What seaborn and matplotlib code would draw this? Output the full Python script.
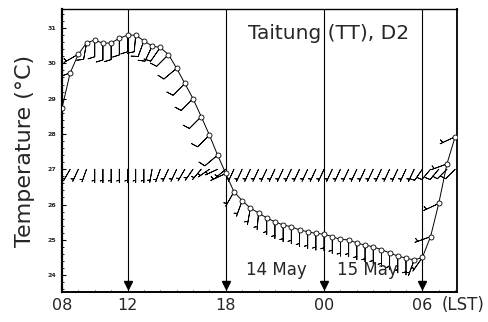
import numpy as np
import matplotlib
matplotlib.use("Agg")
import matplotlib.pyplot as plt
import seaborn as sns

# half-hourly samples, hours since 00 LST on 14 May
hours = [8.0, 8.5, 9.0, 9.5, 10.0, 10.5, 11.0, 11.5, 12.0, 12.5,
         13.0, 13.5, 14.0, 14.5, 15.0, 15.5, 16.0, 16.5, 17.0, 17.5,
         18.0, 18.5, 19.0, 19.5, 20.0, 20.5, 21.0, 21.5, 22.0, 22.5,
         23.0, 23.5, 24.0, 24.5, 25.0, 25.5, 26.0, 26.5, 27.0, 27.5,
         28.0, 28.5, 29.0, 29.5, 30.0, 30.5, 31.0, 31.5, 32.0]
temp = [28.73, 29.73, 30.26, 30.58, 30.66, 30.57, 30.58, 30.71, 30.80, 30.80,
        30.64, 30.49, 30.45, 30.25, 29.86, 29.43, 29.00, 28.49, 27.97, 27.40,
        26.88, 26.36, 26.11, 25.90, 25.76, 25.62, 25.51, 25.42, 25.37, 25.28,
        25.23, 25.18, 25.16, 25.09, 25.01, 25.00, 24.91, 24.85, 24.80, 24.72,
        24.63, 24.54, 24.48, 24.43, 24.50, 25.09, 26.03, 27.15, 27.92]

# wind barbs drawn on the temperature curve (direction wind comes from, deg)
curve_dir = [250, 250, 240, 190, 180, 180, 180, 180, 180, 185,
             200, 205, 215, 225, 230, 225, 225, 225, 225, 230,
             245, 210, 200, 190, 185, 180, 180, 180, 180, 180,
             180, 180, 180, 180, 180, 180, 180, 180, 180, 180,
             180, 180, 180, 200, 215, 250, 245, 250, 245]
curve_spd = [5, 5, 5, 10, 10, 10, 10, 10, 10, 10,
             10, 10, 10, 10, 10, 10, 10, 10, 10, 10,
             5, 5, 5, 5, 5, 5, 5, 5, 5, 5,
             5, 5, 5, 5, 5, 5, 5, 5, 5, 5,
             5, 5, 5, 5, 5, 5, 5, 5, 5]

# second row of wind barbs along a fixed level
row_level = 27.0
row_dir = [215, 210, 205, 200, 180, 180, 180, 180, 180, 180,
           180, 190, 200, 205, 205, 210, 215, 220, 235, 245,
           230, 205, 205, 205, 205, 205, 205, 205, 205, 205,
           205, 205, 205, 205, 205, 205, 205, 205, 205, 205,
           205, 205, 205, 205, 215, 220, 220, 225, 225]
row_spd = [5] * 44 + [10, 10, 10, 10, 10]

arrow_hours = [12, 18, 24, 30]
tick_hours = [8, 12, 18, 24, 30]
tick_labels = ["08", "12", "18", "00", "06"]
y_ticks = [24, 25, 26, 27, 28, 29, 30, 31]
date_text = [("14 May", 21.1), ("15 May", 26.65)]


def wind_uv(direction, speed):
    rad = np.deg2rad(np.asarray(direction, dtype=float))
    spd = np.asarray(speed, dtype=float)
    return -spd * np.sin(rad), -spd * np.cos(rad)


sns.set_style("ticks")
plt.rcParams["font.family"] = ["DejaVu Sans"]

fig = plt.figure(figsize=(4.88, 3.22), dpi=100)
ax = fig.add_axes([0.127, 0.093, 0.809, 0.879])

ymin, ymax = 23.52, 31.54
ax.set_xlim(8.0, 32.1)
ax.set_ylim(ymin, ymax)

# temperature trace
sns.lineplot(x=hours, y=temp, ax=ax, color="black", lw=0.7, marker="o",
             markersize=3.6, markerfacecolor="white", markeredgecolor="black",
             markeredgewidth=0.6, zorder=4)

# barb size grows with length**2 in px, so these stay small
u, v = wind_uv(curve_dir, curve_spd)
ax.barbs(hours, temp, u, v, length=4.9, linewidth=0.6, color="black",
         sizes=dict(emptybarb=0.0), zorder=3)

u2, v2 = wind_uv(row_dir, row_spd)
ax.barbs(hours, [row_level] * len(hours), u2, v2, length=4.4, linewidth=0.6,
         color="black", sizes=dict(emptybarb=0.0), zorder=3)

# time markers
arrow_bottom = 23.72
ax.vlines(arrow_hours, arrow_bottom, ymax, color="black", lw=0.8, zorder=2)
ax.plot(arrow_hours, [arrow_bottom] * len(arrow_hours), "v", color="black",
        markersize=5.5, zorder=2)

ax.text(19.38, 30.86, "Taitung (TT), D2", fontsize=14.5, ha="left", va="center")
for label, x in date_text:
    ax.text(x, 24.14, label, fontsize=12, ha="center", va="center")

ax.set_xticks(tick_hours)
ax.set_xticklabels(tick_labels, fontsize=11.5)
ax.set_xticks(range(8, 33), minor=True)
ax.annotate("(LST)", xy=(30, 0), xycoords=("data", "axes fraction"),
            xytext=(14, -3), textcoords="offset points", ha="left", va="top",
            fontsize=12)

ax.set_yticks(y_ticks)
ax.set_yticklabels([str(t) for t in y_ticks], fontsize=4.5, fontweight="bold")
ax.set_yticks(np.arange(23.6, 31.6, 0.2), minor=True)
ax.set_ylabel("Temperature (\u00b0C)", fontsize=16, labelpad=9)

ax.tick_params(axis="both", which="both", direction="in", color="black")
ax.tick_params(axis="x", which="major", length=3, pad=4)
ax.tick_params(axis="x", which="minor", length=1.5)
ax.tick_params(axis="y", which="major", length=3, pad=4)
ax.tick_params(axis="y", which="minor", length=1.5)

for side in ["left", "bottom", "right", "top"]:
    ax.spines[side].set_visible(True)
    ax.spines[side].set_color("black")
ax.spines["left"].set_linewidth(1.6)
ax.spines["bottom"].set_linewidth(1.4)
ax.spines["right"].set_linewidth(1.3)
ax.spines["top"].set_linewidth(1.0)

fig.savefig("out.png", dpi=100)
